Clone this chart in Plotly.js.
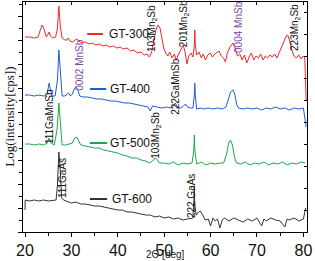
<!DOCTYPE html>
<html><head><meta charset="utf-8">
<script src="https://cdn.plot.ly/plotly-3.0.1.min.js"></script>
<style>html,body{margin:0;padding:0;background:#fff}#c{width:315px;height:261px}</style>
</head><body><div id="c"></div>
<script>
// 2-theta (deg) and log-intensity (arbitrary offset units)
const xGT300 = [20,21,22,22.8,23.3,23.7,24.1,24.6,25.0,25.2,25.5,26.0,26.6,27.0,27.3,27.6,28.0,28.6,29.0,29.3,29.7,30.3,30.8,31.2,31.6,32.2,33,33.8,34.5,35.3,36,36.8,37.5,38.2,39,39.8,40.5,41.2,42,42.8,43.5,44.2,45,45.7,46.3,46.8,47.3,47.8,48.2,48.7,49.1,49.5,49.9,50.3,50.8,51.2,51.7,52.2,52.6,53.0,53.5,54.1,54.5,54.9,55.3,55.8,56.2,56.5,56.6,56.7,57.0,57.5,58,58.4,58.9,59.4,59.9,60.4,60.9,61.4,61.8,62.3,62.8,63.2,63.6,64.2,64.8,65.3,65.8,66.3,66.8,67.3,67.8,68.3,68.8,69.3,69.8,70.3,70.8,71.3,71.8,72.3,72.8,73.3,73.8,74.3,74.8,75.3,75.8,76.3,76.6,77.0,77.5,78.0,78.5,79.0,79.5,80.0,80.3,80.6];
const yGT300 = [19.5,19.5,19.4,19.5,20.2,20.7,20.3,19.5,19.8,20.0,19.6,19.4,19.5,20.4,22.6,20.6,19.4,19.2,19.2,19.4,19.1,19.0,19.2,19.3,19.1,18.9,19.0,18.8,18.9,18.7,18.8,18.6,18.7,18.5,18.6,18.4,18.5,18.3,18.4,18.1,18.2,17.9,18.0,17.7,17.8,17.5,18.0,19.2,20.2,20.7,20.4,19.4,18.4,17.9,17.6,18.0,17.4,17.8,17.2,17.7,18.2,18.7,18.0,16.8,17.6,17.9,17.5,18.7,20.2,18.7,17.7,18.0,17.4,17.8,17.2,17.7,17.9,17.5,17.8,18.0,18.1,17.6,17.4,17.0,17.9,18.5,18.9,18.4,17.6,17.8,17.2,17.7,16.9,17.5,17.9,17.2,17.6,17.4,17.8,17.2,17.6,17.4,17.7,17.5,17.8,17.4,18.0,18.4,19.2,19.6,19.7,19.2,18.2,17.6,17.4,17.7,17.3,17.6,17.4,13.2];

const xGT400 = [20,21,22,23,24,24.7,25.0,25.2,25.5,25.8,26.5,27.0,27.3,27.6,28.0,28.6,29.0,29.4,29.8,30.2,30.6,31.0,31.4,31.8,32.5,33.5,34.5,35.5,36.5,37.5,38.5,39.5,40.5,41.5,42.5,43.5,44.5,45.5,46.5,47.0,47.5,48.5,49.5,50.5,51.5,52.0,52.4,52.8,53.5,54.2,54.6,55.0,55.6,56.2,56.5,56.6,56.7,57.0,57.8,58.5,59.5,60.5,61.5,62.5,63.3,63.8,64.3,64.8,65.2,65.6,66.0,67,68,69,70,71,72,73,74,75,76,77,78,79,80,80.6];
const yGT400 = [13.7,13.7,13.6,13.7,13.6,13.7,14.4,14.9,14.2,13.6,13.6,15.2,18.2,15.7,13.6,13.6,13.8,13.9,13.6,13.8,14.3,14.5,14.2,13.6,13.5,13.5,13.4,13.3,13.3,13.2,13.1,13.1,13.0,12.9,12.9,12.8,12.7,12.6,12.5,12.1,12.6,12.5,12.4,12.5,12.4,12.6,12.9,12.5,12.4,12.6,12.8,12.5,12.4,12.4,13.7,14.9,13.7,12.3,12.4,12.3,12.4,12.3,12.4,12.3,12.5,13.2,14.0,14.2,13.8,12.8,12.4,12.3,12.4,12.3,12.4,12.2,12.4,12.3,12.5,12.3,12.4,12.2,12.4,12.3,12.4,10.5];

const xGT500 = [20,21,22,23,24,24.8,25.2,25.6,26.3,26.9,27.3,27.6,28.0,28.8,29.5,30.2,30.7,31.1,31.5,32,33,34,35,36,37,38,39,40,41,42,43,44,45,46,46.8,47.5,48.0,48.4,49.0,50,51,52,53,54,55,56,56.4,56.5,56.6,57,58,59,60,61,62,62.8,63.4,63.9,64.3,64.7,65.2,65.6,66.5,67.5,68.5,69.5,70.5,71.5,72.5,73.5,74.5,75.5,76.5,77.5,78.5,79.5,80.4];
const yGT500 = [8.8,8.8,8.7,8.8,8.7,8.9,9.4,8.9,8.7,10.2,12.9,10.7,8.7,8.7,8.8,8.9,9.4,9.5,9.2,8.7,8.6,8.5,8.4,8.4,8.2,8.1,8.0,7.9,7.7,7.6,7.4,7.4,7.2,7.1,6.9,7.1,7.4,7.3,6.9,6.9,6.8,7.0,6.7,6.9,6.8,6.9,8.2,9.7,8.2,6.8,7.0,6.7,6.9,6.8,6.9,6.9,7.7,8.9,9.2,8.7,7.4,6.9,6.8,7.0,6.7,6.9,6.8,7.0,6.7,6.9,6.8,7.0,6.7,6.9,6.8,7.0,6.9];

const xGT600 = [20,20.05,21,22,23,24,25,26,26.7,27.0,27.3,27.6,27.9,28.3,29,30,31,32,33,34,35,36,37,38,39,40,41,42,43,44,45,46,47,48,49,50,51,52,53,54,55,56.2,56.4,56.5,56.6,56.9,57.4,57.8,58.3,58.8,59.5,60,60.5,61,61.5,62,62.5,63,64,65,66,67,68,69,70,71,71.5,72,73,74,75,76,76.5,77,78,79,80,80.3,80.5];
const yGT600 = [2.2,3.2,3.1,3.2,3.1,3.2,3.1,3.2,3.2,4.7,8.0,6.2,3.4,3.2,3.1,2.9,3.0,2.8,2.8,2.7,2.6,2.6,2.5,2.4,2.3,2.2,2.2,2.0,2.0,1.9,1.8,1.7,1.7,1.5,1.6,1.4,1.5,1.3,1.4,1.2,1.3,1.4,3.2,4.5,2.7,1.7,2.0,2.1,1.7,1.2,1.3,0.6,1.4,1.1,1.3,0.4,1.2,1.4,1.1,1.4,1.2,1.0,1.3,1.1,1.4,0.6,1.3,1.1,1.4,1.2,1.1,0.5,1.3,1.2,1.4,1.1,1.3,2.2,2.4];

const seriesNames = ["GT-300","GT-400","GT-500","GT-600"];
const seriesColors = ["#f0282a","#1d5fd2","#1ea650","#333333"];

// peak labels: [text, x (deg), y (log units), colour]
const peakText = ["103Mn<sub>2</sub>Sb","201Mn<sub>2</sub>Sb","0004 MnSb","223Mn<sub>2</sub>Sb","0002 MnSb","222GaMnSb","111GaMnSb","103Mn<sub>2</sub>Sb","111GaAs","222 GaAs"];
const peakX = [47.4,54.3,65.9,78.2,31.6,52.3,25.2,48.2,28.0,55.8];
const peakY = [20.3,20.8,20.5,20.4,16.7,14.6,11.5,9.7,5.4,3.6];
const peakColor = ["#111","#111","#7b46a8","#111","#7b46a8","#111","#111","#111","#111","#111"];

// in-plot legend positions (deg, log units)
const legX0 = [33.4,34.0,34.0,34.0], legX1 = [36.8,37.5,37.7,37.7], legY = [19.8,14.3,8.9,3.3], legTextX = [37.7,37.9,37.9,38.3];

const xs=[xGT300,xGT400,xGT500,xGT600], ys=[yGT300,yGT400,yGT500,yGT600];
const traces = xs.map((x,i)=>({x:x,y:ys[i],type:'scatter',mode:'lines',line:{color:seriesColors[i],width:1},hoverinfo:'skip',showlegend:false}));
traces.push({x:[50],y:[10],xaxis:'x2',yaxis:'y2',mode:'markers',marker:{opacity:0},showlegend:false,hoverinfo:'skip'});

const annotations = peakText.map((t,i)=>({text:t,x:peakX[i],y:peakY[i],xref:'x',yref:'y',textangle:-90,showarrow:false,font:{family:'Liberation Sans, Arial',size:10,color:peakColor[i]}}));
seriesNames.forEach((n,i)=>annotations.push({text:n,x:legTextX[i],y:legY[i],xref:'x',yref:'y',xanchor:'left',showarrow:false,font:{family:'Liberation Sans, Arial',size:12,color:'#111'}}));
annotations.push({text:'2Θ [deg]',xref:'paper',yref:'paper',x:0.5,y:-0.126,yanchor:'bottom',borderpad:0,showarrow:false,font:{family:'Liberation Sans, Arial',size:10,color:'#222'}});
annotations.push({text:'Log(intensity[cps])',xref:'paper',yref:'paper',x:-0.05,xanchor:'center',y:0.5,textangle:-90,showarrow:false,font:{family:'Liberation Serif, Times New Roman, serif',size:13,color:'#111'}});

const shapes = seriesNames.map((n,i)=>({type:'line',xref:'x',yref:'y',x0:legX0[i],x1:legX1[i],y0:legY[i],y1:legY[i],line:{color:seriesColors[i],width:2}}));

const xr=[19.57,80.78], yr=[0,23];
const layout = {
  width:315,height:261,margin:{l:23,r:8,t:2,b:29},
  paper_bgcolor:'#fff',plot_bgcolor:'#fff',
  font:{family:'Liberation Sans, Arial',size:16,color:'#111'},
  xaxis:{range:xr,showgrid:false,zeroline:false,showline:true,linecolor:'#000',linewidth:1,mirror:true,ticks:'outside',ticklen:4,tickcolor:'#000',dtick:10,tick0:20,tickfont:{size:16},minor:{dtick:5,ticks:'outside',ticklen:3,tickcolor:'#000'}},
  yaxis:{range:yr,showgrid:false,zeroline:false,showline:true,linecolor:'#000',linewidth:1,mirror:true,ticks:'outside',ticklen:4,tickcolor:'#000',dtick:2.4,tick0:0,showticklabels:false,minor:{dtick:1.2,ticks:'outside',ticklen:3,tickcolor:'#000'}},
  xaxis2:{range:xr,overlaying:'x',side:'top',showgrid:false,zeroline:false,ticks:'inside',ticklen:3,dtick:10,tick0:20,showticklabels:false,tickcolor:'#000'},
  yaxis2:{range:yr,overlaying:'y',side:'right',showgrid:false,zeroline:false,ticks:'inside',ticklen:3,dtick:2.2,tick0:0,showticklabels:false,tickcolor:'#000'},
  annotations:annotations,shapes:shapes
};
Plotly.newPlot('c',traces,layout,{staticPlot:true,displayModeBar:false});
</script></body></html>
